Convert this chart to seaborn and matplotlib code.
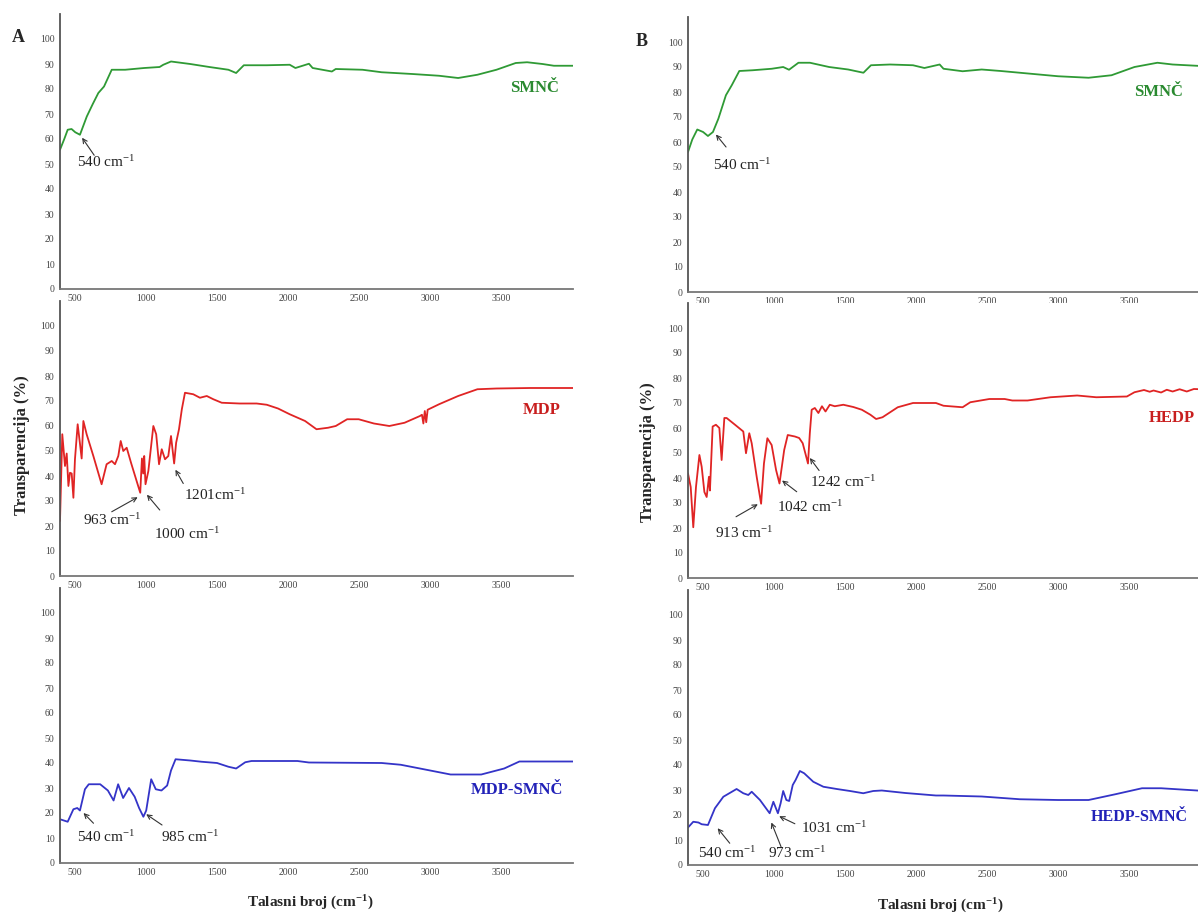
import matplotlib
matplotlib.use("Agg")
import matplotlib.pyplot as plt
import seaborn as sns

# ---------------- spectra (wavenumber in cm^-1, transmittance in %) ----------------
wn_smnc_a = [400, 430, 454, 481, 507, 540, 588, 630, 669, 709, 763, 857, 991, 1099, 1125,
             1179, 1314, 1448, 1582, 1636, 1690, 1851, 2012, 2052, 2147, 2173, 2308, 2335,
             2523, 2657, 2872, 3060, 3194, 3329, 3463, 3598, 3678, 3786, 3866, 4000]
tr_smnc_a = [55.7, 60, 63.7, 64, 62.7, 61.7, 69, 74, 78.4, 81, 87.7, 87.7, 88.4, 88.8, 89.7,
             91, 90, 88.8, 87.7, 86.4, 89.5, 89.5, 89.7, 88.4, 90.1, 88.4, 87, 88,
             87.7, 86.7, 86, 85.3, 84.4, 85.7, 87.7, 90.4, 90.7, 90, 89.3, 89.3]

wn_mdp = [400, 416, 435, 447, 459, 470, 482, 494, 505, 524, 540, 552, 564, 587, 634, 692,
          727, 763, 786, 809, 826, 844, 868, 900, 963, 975, 984, 991, 1000, 1020, 1055,
          1075, 1095, 1114, 1137, 1160, 1179, 1201, 1215, 1235, 1255, 1277, 1335, 1382,
          1430, 1476, 1535, 1660, 1780, 1851, 1930, 2012, 2120, 2200, 2281, 2335, 2415,
          2496, 2603, 2711, 2818, 2926, 2940, 2950, 2960, 2970, 2980, 3060, 3194, 3329,
          3463, 3700, 4000]
tr_mdp = [22, 56.7, 44, 49, 36, 41.3, 41, 31.3, 46.7, 60.7, 53, 47, 62, 56.7, 48, 36.7,
          44.7, 46, 44.7, 48, 54, 50, 51.3, 45, 33.3, 47, 41, 48, 36.7, 42, 60,
          56.7, 44.7, 50.7, 46.7, 48, 56, 45, 53.3, 58.7, 66.7, 73.3, 72.7, 71.3,
          72, 70.7, 69.3, 69, 69, 68.5, 67, 64.7, 62, 58.7, 59.3, 60, 62.7,
          62.7, 61, 60, 61.3, 64, 64.5, 61, 66, 61.5, 66.5, 68.7, 72, 74.7,
          75, 75.2, 75.2]

wn_mdp_smnc = [400, 454, 494, 521, 540, 575, 602, 682, 736, 776, 808, 843, 884, 924, 955,
               985, 1005, 1040, 1072, 1112, 1152, 1179, 1211, 1314, 1394, 1502, 1582, 1636,
               1700, 1744, 2066, 2147, 2657, 2791, 2926, 3141, 3356, 3517, 3624, 4000]
tr_mdp_smnc = [17.5, 16.5, 21.5, 22, 21, 29.5, 31.5, 31.5, 29, 25, 31.5, 26, 30, 26.5, 22,
               18.5, 21, 33.5, 29.5, 29, 31, 37, 41.5, 41, 40.5, 40, 38.5, 37.8,
               40.3, 40.8, 40.8, 40.2, 40, 39.3, 37.8, 35.4, 35.4, 37.8, 40.6, 40.6]

wn_smnc_b = [400, 430, 465, 506, 540, 575, 613, 666, 707, 760, 854, 988, 1068, 1109, 1175,
             1256, 1390, 1524, 1631, 1684, 1818, 1979, 2059, 2166, 2193, 2327, 2461, 2595,
             2863, 2997, 3211, 3372, 3533, 3694, 3801, 4000]
tr_smnc_b = [56, 61, 65, 64, 62.4, 64, 69.3, 78.7, 82.7, 88.4, 88.7, 89.3, 90, 88.9, 91.7,
             91.7, 90, 89, 87.7, 90.7, 91, 90.7, 89.6, 91, 89.3, 88.3, 89, 88.4,
             87, 86.3, 85.7, 86.7, 90, 91.7, 91, 90.4]

wn_hedp = [400, 419, 437, 456, 480, 496, 515, 531, 547, 554, 573, 596, 620, 636, 655, 671,
           730, 788, 807, 830, 847, 882, 913, 933, 957, 987, 1018, 1042, 1075, 1100, 1150,
           1180, 1205, 1242, 1255, 1268, 1290, 1315, 1340, 1365, 1395, 1430, 1490, 1560,
           1620, 1680, 1720, 1765, 1872, 1979, 2140, 2193, 2327, 2381, 2515, 2622, 2676,
           2783, 2944, 3131, 3265, 3480, 3533, 3600, 3640, 3667, 3720, 3760, 3801, 3850,
           3900, 3950, 4000]
tr_hedp = [41.8, 36.4, 20.3, 36.4, 49.2, 44.5, 34.4, 32.4, 40.5, 35, 60.6, 61.3, 60, 47.2, 64, 64,
           61.3, 58.6, 49.9, 57.9, 53.9, 40.5, 29.7, 45.8, 55.9, 53.2, 43.2, 37.8, 51.2, 57.2, 56.6,
           56, 53.9, 45.8, 58, 67.3, 68, 66, 68.7, 66.6, 69.3, 68.7, 69.3, 68.4,
           67.3, 65.3, 63.6, 64.3, 68.3, 70, 70, 68.9, 68.3, 70.3, 71.6, 71.6, 71,
           71, 72.3, 73, 72.3, 72.6, 74.3, 75.2, 74.5, 75, 74.2, 75.3, 74.6, 75.5,
           74.6, 75.6, 75.5]

wn_hedp_smnc = [400, 437, 473, 496, 540, 589, 648, 741, 788, 823, 847, 905, 973, 999, 1031,
                1050, 1068, 1090, 1110, 1135, 1155, 1185, 1215, 1279, 1350, 1444, 1537, 1630,
                1700, 1760, 1925, 2140, 2194, 2461, 2729, 2997, 3211, 3399, 3586, 3720, 4000]
tr_hedp_smnc = [15, 17.3, 17, 16.3, 16, 22.7, 27.3, 30.4, 28.7, 28, 29.3, 26, 20.7, 25.3, 20.7,
                24.7, 29.6, 26, 25.6, 32, 34, 37.6, 36.7, 33.3, 31.3, 30.4, 29.6, 28.7,
                29.6, 29.8, 28.8, 27.8, 27.8, 27.4, 26.3, 26, 26, 28.3, 30.7, 30.7, 29.7]

x_ticks = [500, 1000, 1500, 2000, 2500, 3000, 3500]
y_ticks = [0, 10, 20, 30, 40, 50, 60, 70, 80, 90, 100]

GREEN, GREEN_T = "#2f9a35", "#2a8a30"
RED, RED_T = "#e02424", "#c81e1e"
BLUE, BLUE_T = "#3434c8", "#2222b8"

# ---------------- style ----------------
sns.set_theme(style="white")
plt.rcParams["font.family"] = ["Liberation Serif", "DejaVu Serif"]
plt.rcParams["mathtext.fontset"] = "custom"
plt.rcParams["mathtext.rm"] = "Liberation Serif"
plt.rcParams["mathtext.it"] = "Liberation Serif:italic"
plt.rcParams["mathtext.bf"] = "Liberation Serif:bold"

W, H = 1198, 914
fig = plt.figure(figsize=(W / 100, H / 100), dpi=100)
fig.patch.set_facecolor("white")

AX_W = 513 / W
AX_H = 275 / H


def rect(left_px, bottom_px):
    return [left_px / W, (H - bottom_px) / H, AX_W, AX_H]


def panel(r, wn, tr, color, name, name_pos, name_color, name_ha="center",
          name_size=12, notes=()):
    ax = fig.add_axes(r)
    sns.lineplot(x=wn, y=tr, ax=ax, color=color, linewidth=1.3,
                 estimator=None, sort=False)
    ax.set_xlim(400, 4000)
    ax.set_ylim(0, 110)
    ax.set_xticks(x_ticks)
    ax.set_yticks(y_ticks)
    ax.set_xticklabels([str(t) for t in x_ticks], fontsize=7, color="#444444")
    ax.set_yticklabels([str(t) for t in y_ticks], fontsize=7, color="#444444")
    ax.tick_params(axis="both", length=2, width=0.8, color="#666666", pad=2)
    ax.tick_params(axis="x", direction="inout", length=3)
    ax.set_xlabel("")
    ax.set_ylabel("")
    for side in ("top", "right"):
        ax.spines[side].set_visible(False)
    ax.spines["left"].set_color("#555555")
    ax.spines["left"].set_linewidth(1.3)
    ax.spines["bottom"].set_color("#777777")
    ax.spines["bottom"].set_linewidth(1.3)
    ax.set_facecolor("white")
    ax.text(name_pos[0], name_pos[1], name, color=name_color, fontsize=name_size,
            fontweight="bold", ha=name_ha, va="center", clip_on=False)
    for label, txt_xy, tail, tip in notes:
        ax.annotate("", xy=tip, xytext=tail,
                    arrowprops=dict(arrowstyle="->", color="#333333", lw=0.8,
                                    shrinkA=0, shrinkB=0, mutation_scale=8))
        ax.text(txt_xy[0], txt_xy[1], label, fontsize=11, color="#222222",
                ha="center", va="center")
    return ax


CM = r"cm$^{-1}$"

# ---------------- panel A ----------------
panel(rect(60, 289), wn_smnc_a, tr_smnc_a, GREEN, "SMNČ", (3733, 80.4), GREEN_T,
      notes=[("540 " + CM, (723, 50.8), (640, 53.5), (555, 60.5))])
panel(rect(60, 576), wn_mdp, tr_mdp, RED, "MDP", (3782, 66.4), RED_T,
      notes=[("963 " + CM, (765, 22.4), (763, 25.7), (945, 31.5)),
             ("1000 " + CM, (1290, 16.8), (1100, 26.4), (1010, 32.5)),
             ("1201" + CM, (1490, 32.4), (1265, 37.0), (1210, 42.5))])
panel(rect(60, 863), wn_mdp_smnc, tr_mdp_smnc, BLUE, "MDP-SMNČ", (3607, 29.2), BLUE_T,
      notes=[("540 " + CM, (723, 10.5), (635, 15.9), (565, 20.0)),
             ("985 " + CM, (1312, 10.5), (1116, 15.2), (1005, 19.5))])

# ---------------- panel B ----------------
panel(rect(688, 292), wn_smnc_b, tr_smnc_b, GREEN, "SMNČ", (3705, 80.0), GREEN_T,
      notes=[("540 " + CM, (779, 50.8), (667, 58.0), (596, 63.0))])
panel(rect(688, 578), wn_hedp, tr_hedp, RED, "HEDP", (3630, 64.0), RED_T, name_ha="left",
      notes=[("913 " + CM, (793, 18.0), (737, 24.5), (890, 29.5)),
             ("1042 " + CM, (1256, 28.5), (1163, 34.5), (1060, 39.0)),
             ("1242 " + CM, (1488, 38.5), (1320, 43.0), (1255, 48.0))])
panel(rect(688, 865), wn_hedp_smnc, tr_hedp_smnc, BLUE, "HEDP-SMNČ", (3225, 19.2), BLUE_T,
      name_ha="left", name_size=11.5,
      notes=[("540 " + CM, (674, 4.9), (693, 8.7), (608, 14.7)),
             ("973 " + CM, (1165, 4.9), (1053, 7.3), (985, 17.0)),
             ("1031 " + CM, (1424, 14.8), (1150, 16.5), (1040, 19.5))])

# ---------------- figure-level labels ----------------
fig.text(18 / W, 1 - 38 / H, "A", fontsize=13, fontweight="bold", ha="center", va="center")
fig.text(642 / W, 1 - 42 / H, "B", fontsize=13, fontweight="bold", ha="center", va="center")

ylab = "Transparencija (%)"
fig.text(22 / W, 1 - 445 / H, ylab, rotation=90, fontsize=12, fontweight="bold",
         ha="center", va="center")
fig.text(648 / W, 1 - 452 / H, ylab, rotation=90, fontsize=12, fontweight="bold",
         ha="center", va="center")

xlab = r"Talasni broj (cm$^{\mathbf{-1}}$)"
fig.text(310 / W, 1 - 903 / H, xlab, fontsize=11, fontweight="bold", ha="center", va="center")
fig.text(940 / W, 1 - 906 / H, xlab, fontsize=11, fontweight="bold", ha="center", va="center")

fig.savefig("out.png", dpi=100, facecolor="white")
